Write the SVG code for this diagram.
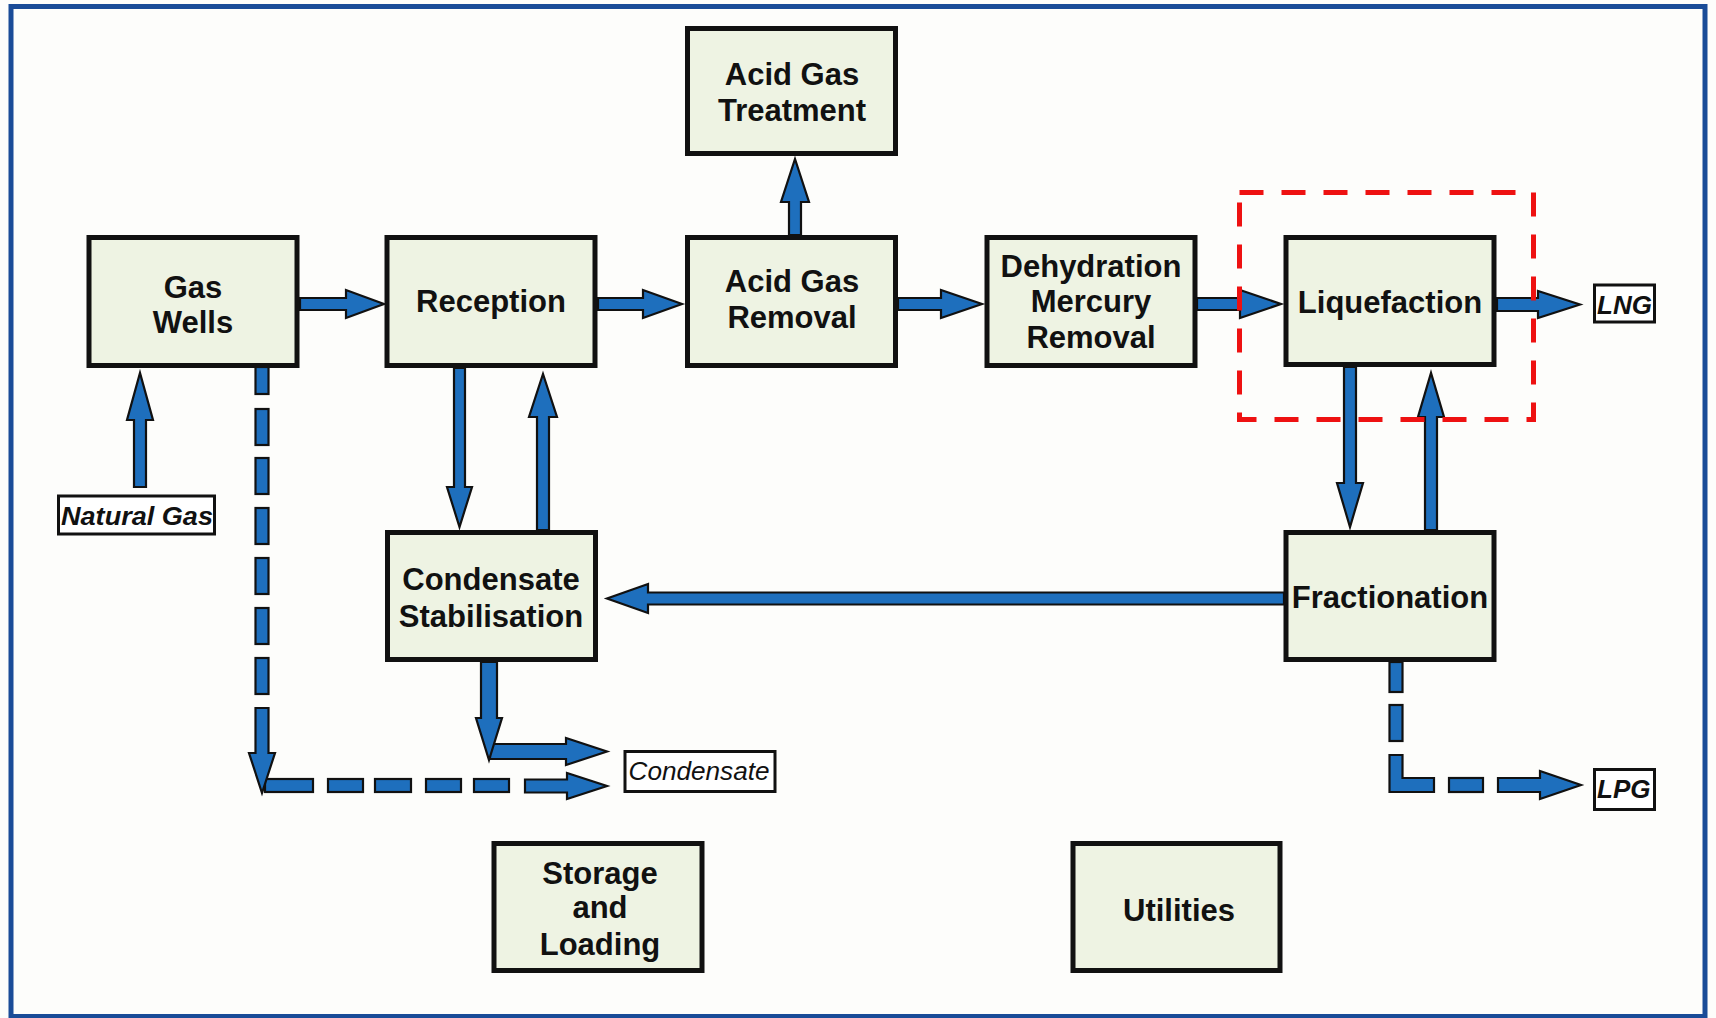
<svg xmlns="http://www.w3.org/2000/svg" width="1716" height="1018" viewBox="0 0 1716 1018">
<style>
.box{fill:#eef3e3;stroke:#111;stroke-width:5}
.lbl{fill:#fff;stroke:#111;stroke-width:3}
.t{font-family:"Liberation Sans",Arial,sans-serif;font-weight:bold;font-size:31px;fill:#111;text-anchor:middle}
.it{font-family:"Liberation Sans",Arial,sans-serif;font-style:italic;font-weight:bold;font-size:26px;fill:#111}
.itn{font-family:"Liberation Sans",Arial,sans-serif;font-style:italic;font-size:26px;fill:#111}
.ar{fill:#1e6fbd;stroke:#111;stroke-width:2.2;stroke-linejoin:miter}
</style>
<rect x="0" y="0" width="1716" height="1018" fill="#fdfdfb"/>
<rect x="11" y="6.5" width="1694" height="1010" fill="none" stroke="#1a4c98" stroke-width="5"/>

<g id="connectors">
  <!-- main row -->
  <polygon class="ar" points="300,298 346,298 346,290 384,304 346,318 346,310 300,310"/>
  <polygon class="ar" points="598,298 643,298 643,290 682,304 643,318 643,310 598,310"/>
  <polygon class="ar" points="898,298 941,298 941,290 982,304 941,318 941,310 898,310"/>
  <polygon class="ar" points="1197,298 1240,298 1240,290 1281,304 1240,318 1240,310 1197,310"/>
  <polygon class="ar" points="1497,298 1538,298 1538,291 1580,304.5 1538,318 1538,311 1497,311"/>
  <!-- AGR to AGT -->
  <polygon class="ar" points="789,235 789,202 781,202 795,159 809,202 801,202 801,235"/>
  <!-- Reception down -->
  <polygon class="ar" points="454,368 454,487 447,487 459.5,527 472,487 465,487 465,368"/>
  <!-- CondStab up -->
  <polygon class="ar" points="537,530 537,417 529,417 543,374 557,417 549,417 549,530"/>
  <!-- Liq down -->
  <polygon class="ar" points="1344,367 1344,483 1337,483 1350,527 1363,483 1356,483 1356,367"/>
  <!-- Frac up -->
  <polygon class="ar" points="1425,530 1425,417 1418,417 1431,373 1444,417 1437,417 1437,530"/>
  <!-- Frac to CondStab -->
  <polygon class="ar" points="1284,592.5 648,592.5 648,584 607,598.5 648,613 648,604.5 1284,604.5"/>
  <!-- Natural Gas up -->
  <polygon class="ar" points="134,487 134,420 127,420 140,373 153,420 146,420 146,487"/>
  <!-- Condensate from CondStab -->
  <polygon class="ar" points="490,744 566,744 566,738 607,751.5 566,765 566,759 490,759"/>
  <polygon class="ar" points="481,662 481,718 476,718 489,760 502,718 497,718 497,662"/>
  <!-- Gas Wells dashed -->
  <rect class="ar" x="255.5" y="367" width="13" height="27"/>
  <rect class="ar" x="255.5" y="409" width="13" height="36"/>
  <rect class="ar" x="255.5" y="458" width="13" height="36"/>
  <rect class="ar" x="255.5" y="508" width="13" height="36"/>
  <rect class="ar" x="255.5" y="558" width="13" height="36"/>
  <rect class="ar" x="255.5" y="608" width="13" height="36"/>
  <rect class="ar" x="255.5" y="658" width="13" height="36"/>
  <rect class="ar" x="265" y="779" width="48" height="13"/>
  <rect class="ar" x="328" y="779" width="35" height="13"/>
  <rect class="ar" x="375" y="779" width="36" height="13"/>
  <rect class="ar" x="426" y="779" width="35" height="13"/>
  <rect class="ar" x="474" y="779" width="35" height="13"/>
  <polygon class="ar" points="525,779.5 567,779.5 567,773 607,786 567,799 567,792.5 525,792.5"/>
  <polygon class="ar" points="255.5,708 255.5,753 249,753 262,793 275,753 268.5,753 268.5,708"/>
  <!-- LPG dashed -->
  <rect class="ar" x="1389.5" y="662" width="13" height="30"/>
  <rect class="ar" x="1389.5" y="705" width="13" height="36"/>
  <polygon class="ar" points="1389.5,755 1402.5,755 1402.5,778 1434,778 1434,792 1389.5,792"/>
  <rect class="ar" x="1449" y="778" width="34" height="14"/>
  <polygon class="ar" points="1498,778 1540,778 1540,771 1581,785 1540,799 1540,792 1498,792"/>
</g>

<g id="gas-wells"><rect class="box" x="89" y="237.5" width="208" height="128"/><text class="t" x="193" y="298">Gas</text><text class="t" x="193" y="333">Wells</text></g>
<g id="reception"><rect class="box" x="387" y="237.5" width="208" height="128"/><text class="t" x="491" y="312">Reception</text></g>
<g id="acid-gas-removal"><rect class="box" x="687.5" y="237.5" width="208" height="128"/><text class="t" x="792" y="292">Acid Gas</text><text class="t" x="792" y="328">Removal</text></g>
<g id="acid-gas-treatment"><rect class="box" x="687.5" y="28.5" width="208" height="125"/><text class="t" x="792" y="85">Acid Gas</text><text class="t" x="792" y="121">Treatment</text></g>
<g id="dehydration"><rect class="box" x="987" y="237.5" width="208" height="128"/><text class="t" x="1091" y="277">Dehydration</text><text class="t" x="1091" y="312">Mercury</text><text class="t" x="1091" y="347.5">Removal</text></g>
<g id="liquefaction"><rect class="box" x="1286" y="237.5" width="208" height="127"/><text class="t" x="1390" y="313">Liquefaction</text></g>
<g id="condensate-stabilisation"><rect class="box" x="387.5" y="532.5" width="208" height="127"/><text class="t" x="491" y="590">Condensate</text><text class="t" x="491" y="626.5">Stabilisation</text></g>
<g id="fractionation"><rect class="box" x="1286" y="532.5" width="208" height="127"/><text class="t" x="1390" y="608">Fractionation</text></g>
<g id="storage-loading"><rect class="box" x="494" y="843.5" width="208" height="127"/><text class="t" x="600" y="884">Storage</text><text class="t" x="600" y="918">and</text><text class="t" x="600" y="955">Loading</text></g>
<g id="utilities"><rect class="box" x="1073" y="843.5" width="207" height="127"/><text class="t" x="1179" y="921">Utilities</text></g>

<g id="natural-gas"><rect class="lbl" x="58.5" y="496" width="156" height="38"/><text class="it" x="61" y="525" textLength="152" lengthAdjust="spacingAndGlyphs">Natural Gas</text></g>
<g id="condensate"><rect class="lbl" x="625" y="751.5" width="150" height="40"/><text class="itn" x="628.5" y="780" textLength="141" lengthAdjust="spacingAndGlyphs">Condensate</text></g>
<g id="lng"><rect class="lbl" x="1594.5" y="285" width="60" height="37"/><text class="it" x="1597" y="313.5">LNG</text></g>
<g id="lpg"><rect class="lbl" x="1594.5" y="769.5" width="60" height="40"/><text class="it" x="1597" y="798">LPG</text></g>

<g id="liquefaction-highlight"><rect x="1239.5" y="192.5" width="294" height="227" fill="none" stroke="#ee1111" stroke-width="5" stroke-dasharray="24 18"/></g>
</svg>
